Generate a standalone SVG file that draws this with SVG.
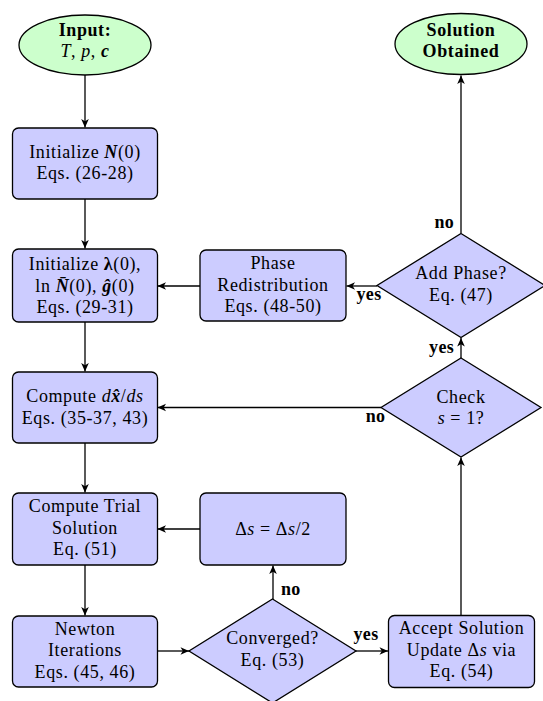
<svg xmlns="http://www.w3.org/2000/svg" width="543" height="701" viewBox="0 0 543 701">
<defs>
<style>
.box { fill: #ccccff; stroke: #000; stroke-width: 1.3; }
.term { fill: #ccffcc; stroke: #000; stroke-width: 1.3; }
.edge { fill: none; stroke: #000; stroke-width: 1.3; marker-end: url(#arr); }
text { font-family: "Liberation Serif", "DejaVu Serif", serif; font-size: 18px; fill: #000; text-anchor: middle; letter-spacing: 0.6px; }
.b { font-weight: bold; }
.i { font-style: italic; }
.bi { font-weight: bold; font-style: italic; }
.lbl { font-weight: bold; font-size: 18px; letter-spacing: 0.3px; }
.st { text-anchor: start; }
.en { text-anchor: end; }
</style>
<marker id="arr" markerWidth="10" markerHeight="10" viewBox="-9 -5 10 10" refX="0" refY="0" orient="auto" markerUnits="userSpaceOnUse">
<path d="M0,0 L-8.5,-3.8 L-6.2,0 L-8.5,3.8 Z" fill="#000"/>
</marker>
</defs>
<rect width="543" height="701" fill="#fff"/>

<g id="connectors">
<line class="edge" x1="85" y1="75" x2="85" y2="127.5"/>
<line class="edge" x1="85" y1="199" x2="85" y2="248.5"/>
<line class="edge" x1="85" y1="322" x2="85" y2="371.5"/>
<line class="edge" x1="85" y1="443" x2="85" y2="492.5"/>
<line class="edge" x1="85" y1="565" x2="85" y2="615.5"/>
<line class="edge" x1="157.5" y1="651" x2="189" y2="651"/>
<line class="edge" x1="356" y1="651" x2="388" y2="651"/>
<line class="edge" x1="273" y1="599" x2="273" y2="565.5"/>
<line class="edge" x1="200" y1="529" x2="157.5" y2="529"/>
<line class="edge" x1="461" y1="615.5" x2="461" y2="457.5"/>
<line class="edge" x1="461" y1="358" x2="461" y2="338"/>
<line class="edge" x1="381" y1="407.5" x2="157.5" y2="407.5"/>
<line class="edge" x1="377" y1="286" x2="346.5" y2="286"/>
<line class="edge" x1="200" y1="286" x2="157.5" y2="286"/>
<line class="edge" x1="461" y1="233" x2="461" y2="75.5"/>
<text class="lbl en" x="454" y="228">no</text>
<text class="lbl" x="369" y="300">yes</text>
<text class="lbl en" x="454" y="353">yes</text>
<text class="lbl" x="375.5" y="422">no</text>
<text class="lbl st" x="281" y="595">no</text>
<text class="lbl" x="366" y="640">yes</text>
</g>

<g id="input">
<ellipse class="term" cx="85" cy="45" rx="66" ry="30"/>
<text x="85" y="36" class="b">Input:</text>
<text x="85" y="57"><tspan class="i">T</tspan>, <tspan class="i">p</tspan>, <tspan class="bi">c</tspan></text>
</g>

<g id="solution">
<ellipse class="term" cx="461" cy="44" rx="66" ry="30.5"/>
<text x="461" y="36" class="b">Solution</text>
<text x="461" y="57" class="b">Obtained</text>
</g>

<g id="initN">
<rect class="box" x="12.5" y="128" width="145" height="71" rx="6"/>
<text x="85" y="157.5">Initialize <tspan class="bi">N</tspan>(0)</text>
<text x="85" y="179">Eqs. (26-28)</text>
</g>

<g id="initLambda">
<rect class="box" x="12.5" y="249" width="145" height="73" rx="6"/>
<text x="85" y="270">Initialize <tspan class="b">λ</tspan>(0),</text>
<text x="85" y="291.5">ln <tspan class="bi">N̄</tspan>(0), <tspan class="bi">ĝ</tspan>(0)</text>
<text x="85" y="312.5">Eqs. (29-31)</text>
</g>

<g id="computeDx">
<rect class="box" x="12.5" y="372" width="145" height="71" rx="6"/>
<text x="85" y="401.5">Compute <tspan class="i">d</tspan><tspan class="bi">x̂</tspan>/<tspan class="i">ds</tspan></text>
<text x="85" y="423.5">Eqs. (35-37, 43)</text>
</g>

<g id="trial">
<rect class="box" x="12.5" y="493" width="145" height="72" rx="6"/>
<text x="85" y="512">Compute Trial</text>
<text x="85" y="533.5">Solution</text>
<text x="85" y="555">Eq. (51)</text>
</g>

<g id="newton">
<rect class="box" x="12.5" y="616" width="145" height="71" rx="6"/>
<text x="85" y="634.5">Newton</text>
<text x="85" y="656">Iterations</text>
<text x="85" y="677.5">Eqs. (45, 46)</text>
</g>

<g id="phase">
<rect class="box" x="200" y="250" width="146" height="71" rx="6"/>
<text x="273" y="269">Phase</text>
<text x="273" y="290.5">Redistribution</text>
<text x="273" y="312">Eqs. (48-50)</text>
</g>

<g id="halve">
<rect class="box" x="200" y="493" width="146" height="72" rx="6"/>
<text x="273" y="535">Δ<tspan class="i">s</tspan> = Δ<tspan class="i">s</tspan>/2</text>
</g>

<g id="accept">
<rect class="box" x="388.5" y="615.5" width="146" height="72" rx="6"/>
<text x="461.5" y="634">Accept Solution</text>
<text x="461.5" y="655.5">Update Δ<tspan class="i">s</tspan> via</text>
<text x="461.5" y="677">Eq. (54)</text>
</g>

<g id="addPhase">
<polygon class="box" points="461,233.5 545,285.5 461,337.5 377,285.5"/>
<text x="461" y="279">Add Phase?</text>
<text x="461" y="301">Eq. (47)</text>
</g>

<g id="check">
<polygon class="box" points="461,358 541,407.5 461,457 381,407.5"/>
<text x="461" y="402.5">Check</text>
<text x="461" y="424"><tspan class="i">s</tspan> = 1?</text>
</g>

<g id="converged">
<polygon class="box" points="272.5,599 356,651 272.5,703 189,651"/>
<text x="272.5" y="644">Converged?</text>
<text x="272.5" y="665.5">Eq. (53)</text>
</g>
</svg>
